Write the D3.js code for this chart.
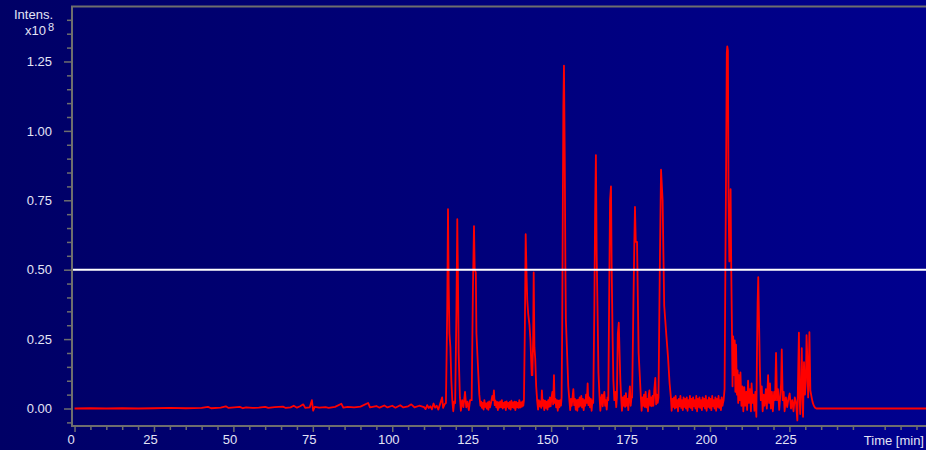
<!DOCTYPE html>
<html>
<head>
<meta charset="utf-8">
<script src="https://cdn.jsdelivr.net/npm/d3@7"></script>
<style>
  html, body { margin: 0; padding: 0; background: #00006c; }
  svg { display: block; }
</style>
</head>
<body>
<svg id="chart" width="926" height="450"></svg>
<script>
// ---- axis ticks ----
const xTickValues = [0, 25, 50, 75, 100, 125, 150, 175, 200, 225];
const xTickLabels = ["0", "25", "50", "75", "100", "125", "150", "175", "200", "225"];
const yTickValues = [0, 0.25, 0.5, 0.75, 1.0, 1.25];
const yTickLabels = ["0.00", "0.25", "0.50", "0.75", "1.00", "1.25"];

// intensity threshold line (x10^8)
const thresholdLevel = 0.5;

// ---- chromatogram trace: [time in min, intensity x10^8] ----
// quiet baseline before elution
const traceBaseline = [
  [0, 0], [5, 0.001], [10, 0], [15, 0.001], [20, 0], [25, 0.001], [30, 0.002], [35, 0.001],
  [40, 0.002], [42, 0.006], [43, 0.001], [46, 0.003], [47.6, 0.008], [48.5, 0.002], [52, 0.006],
  [53, 0.001], [54, 0.004], [56, 0.002], [58, 0.003], [60, 0.006], [61, 0.002], [63, 0.005],
  [65.6, 0.007], [66.5, 0.002], [68, 0.004], [69, 0.01], [70, 0.003], [71, 0.008], [72, 0.015],
  [72.6, 0.002], [74, 0.004], [74.7, 0.03], [75.1, -0.008], [75.6, 0.006], [77, 0.003],
  [79, 0.005], [80, 0.002], [82, 0.006], [84, 0.017], [84.6, 0.003], [86, 0.006], [88, 0.004],
  [90, 0.007], [92.4, 0.02], [93, 0.004], [95, 0.009], [96, 0.003], [97.5, 0.011], [98.5, 0.004],
  [100, 0.01], [101, 0.003], [102.5, 0.012], [103.5, 0.004], [105, 0.008], [106, 0.015],
  [107, 0.004], [108.5, 0.01], [110, 0.005]
];

// main elution window
const traceElution = [
  [110.5, -0.002], [111, 0.012], [111.5, 0.002], [112, 0.008], [112.5, -0.003], [113, 0.018],
  [113.5, 0.003], [114, 0.01], [114.5, -0.004], [115, 0.014], [115.7, 0.04], [116, 0.002],
  [116.5, 0.016], [116.9, 0.02],
  [117.3, 0.35], [117.55, 0.718], [117.75, 0.45], [118, 0.27], [118.3, 0.22], [118.6, 0.1], [118.9, 0.03],
  [119.2, -0.01], [119.5, 0.025], [119.8, 0.02],
  [120.2, 0.35], [120.47, 0.682], [120.7, 0.45], [120.9, 0.2], [121.1, 0.12], [121.3, 0.04],
  [121.6, -0.008], [122, 0.03], [122.4, 0.005], [122.9, 0.06], [123.3, 0.004], [123.7, 0.025],
  [124.1, -0.006], [124.5, 0.03], [125, 0.03],
  [125.4, 0.44], [125.73, 0.657], [125.95, 0.5], [126.3, 0.49], [126.5, 0.27], [126.9, 0.17], [127.4, 0.05],
  [127.75, 0.01], [128, 0.025], [128.25, 0.002], [128.5, 0.02], [128.75, -0.004], [129, 0.03],
  [129.25, 0.006], [129.5, 0.018], [129.75, 0], [130, 0.022], [130.25, -0.005], [130.5, 0.026],
  [130.75, 0.004], [131, 0.015], [131.25, 0.03], [131.5, 0.045], [131.75, 0.03], [132, 0.065],
  [132.25, 0.012], [132.5, 0.028], [132.75, 0.004], [133, 0.024], [133.25, -0.006], [133.5, 0.022],
  [133.75, 0.003], [134, 0.026], [134.25, 0.005], [134.5, 0.03], [134.75, 0], [135, 0.02],
  [135.25, 0.004], [135.5, 0.024], [135.75, -0.006], [136, 0.026], [136.25, 0.006], [136.5, 0.02],
  [136.75, 0], [137, 0.024], [137.25, -0.004], [137.5, 0.028], [137.75, 0.004], [138, 0.022],
  [138.25, 0.002], [138.5, 0.025], [138.75, -0.006], [139, 0.024], [139.25, 0.004], [139.5, 0.02],
  [139.75, 0.002], [140, 0.03], [140.25, 0.003], [140.5, 0.022], [140.75, 0.006], [141, 0.026],
  [141.25, 0.01], [141.45, 0.03],
  [141.75, 0.3], [142, 0.628], [142.3, 0.47], [142.5, 0.39], [142.8, 0.34], [143.2, 0.3], [143.5, 0.245], [143.9, 0.12],
  [144.1, 0.12], [144.35, 0.25], [144.52, 0.49], [144.75, 0.22], [145, 0.18], [145.3, 0.08], [145.6, 0.03],
  [145.9, -0.004], [146.15, 0.03], [146.4, 0.008], [146.65, 0.026], [146.9, 0.002], [147.1, 0.065],
  [147.35, 0.01], [147.6, 0.03], [147.85, -0.006], [148.1, 0.028], [148.35, 0.002], [148.6, 0.025],
  [148.85, -0.004], [149.1, 0.03], [149.35, 0.006], [149.6, 0.04], [149.85, 0.008], [150.1, 0.035],
  [150.4, 0.06], [150.65, 0.015], [150.9, 0.12], [151.1, 0.02], [151.35, 0.035], [151.6, 0.004],
  [151.85, 0.03], [152.1, -0.008], [152.35, 0.028], [152.6, 0.004], [152.85, 0.03], [153.1, 0.01], [153.3, 0.04],
  [153.5, 0.3], [153.7, 0.75], [153.85, 1.087], [154.05, 1.235], [154.3, 0.9], [154.5, 0.5],
  [154.65, 0.32], [155, 0.21], [155.4, 0.08], [155.75, 0.03],
  [156, -0.006], [156.25, 0.035], [156.5, 0.01], [156.75, 0.04], [157, 0.07], [157.25, 0.012],
  [157.5, 0.035], [157.75, -0.004], [158, 0.03], [158.25, -0.008], [158.5, 0.032], [158.75, 0.006],
  [159, 0.04], [159.25, 0.01], [159.5, 0.045], [159.75, 0.004], [160, 0.035], [160.25, -0.006],
  [160.5, 0.03], [160.75, 0.01], [161, 0.05], [161.25, 0.02], [161.5, 0.09], [161.75, 0.012],
  [162, 0.04], [162.25, 0.004], [162.5, 0.035], [162.75, -0.008], [163, 0.03], [163.25, 0.02],
  [163.6, 0.35], [163.85, 0.7], [164.1, 0.913], [164.35, 0.55], [164.6, 0.37], [164.9, 0.13], [165.25, 0.04],
  [165.5, -0.008], [165.75, 0.035], [166, 0.05], [166.25, 0.008], [166.5, 0.04], [166.75, 0.06],
  [167, 0.01], [167.25, 0.03], [167.5, -0.004], [167.75, 0.04], [168, 0.03],
  [168.25, 0.36], [168.55, 0.75], [168.85, 0.8], [169.05, 0.52], [169.35, 0.26], [169.6, 0.1], [169.9, 0.03],
  [170.2, 0.06], [170.5, 0.005], [170.7, 0.04],
  [171, 0.27], [171.3, 0.309], [171.55, 0.2], [171.8, 0.1], [172.05, 0.04],
  [172.3, -0.008], [172.55, 0.04], [172.8, 0.01], [173.05, 0.045], [173.3, 0.006], [173.55, 0.055],
  [173.8, 0.01], [174.05, 0.035], [174.3, -0.006], [174.55, 0.045], [174.8, 0.08], [175.05, 0.01],
  [175.3, 0.04], [175.5, 0.04],
  [175.9, 0.37], [176.2, 0.6], [176.4, 0.726], [176.65, 0.6], [177.05, 0.6], [177.3, 0.4],
  [177.55, 0.2], [177.95, 0.11], [178.25, 0.04],
  [178.5, -0.008], [178.75, 0.04], [179, 0.01], [179.25, 0.05], [179.5, 0.006], [179.75, 0.06],
  [180, 0.004], [180.25, 0.035], [180.5, -0.01], [180.75, 0.05], [180.95, 0.065], [181.2, 0.01],
  [181.45, 0.04], [181.7, 0.008], [181.95, 0.045], [182.2, 0.01], [182.5, 0.07], [182.8, 0.11],
  [183.05, 0.015], [183.3, 0.05], [183.55, 0.02], [183.8, 0.04],
  [184.2, 0.49], [184.6, 0.86], [185.1, 0.75], [185.6, 0.37], [186.3, 0.26], [186.8, 0.185], [187.3, 0.09], [187.7, 0.04],
  [187.95, -0.008], [188.2, 0.035], [188.45, 0.006], [188.7, 0.04], [188.95, 0], [189.2, 0.045],
  [189.45, 0.004], [189.7, 0.03], [189.95, -0.01], [190.2, 0.035], [190.45, 0.008], [190.7, 0.045],
  [190.95, 0.002], [191.2, 0.03], [191.45, -0.006], [191.7, 0.04], [191.95, 0.006], [192.2, 0.035],
  [192.45, 0], [192.7, 0.04], [192.95, -0.008], [193.2, 0.03], [193.45, 0.006], [193.7, 0.045],
  [193.95, 0.002], [194.2, 0.035], [194.45, -0.006], [194.7, 0.04], [194.95, 0.008], [195.2, 0.03],
  [195.45, 0], [195.7, 0.045], [195.95, -0.01], [196.2, 0.035], [196.45, 0.006], [196.7, 0.04],
  [196.95, 0.002], [197.2, 0.03], [197.45, -0.006], [197.7, 0.04], [197.95, 0.008], [198.2, 0.035],
  [198.45, 0], [198.7, 0.045], [198.95, -0.008], [199.2, 0.03], [199.45, 0.006], [199.7, 0.04],
  [199.95, 0.002], [200.2, 0.035], [200.45, -0.006], [200.7, 0.045], [200.95, 0.008], [201.2, 0.03],
  [201.45, 0], [201.7, 0.04], [201.95, -0.008], [202.2, 0.035], [202.45, 0.006], [202.7, 0.045],
  [202.95, 0.002], [203.2, 0.03], [203.45, -0.006], [203.7, 0.04], [203.95, 0.01], [204.1, 0.02]
];

// late eluting peaks and column wash
const traceLate = [
  [204.3, 0.03], [204.6, 0.07], [204.85, 0.5], [205.1, 0.9], [205.3, 1.28], [205.45, 1.304],
  [205.65, 1.29], [205.85, 0.75], [206.1, 0.53], [206.3, 0.62], [206.5, 0.79], [206.7, 0.5],
  [206.9, 0.31], [207.1, 0.08], [207.3, 0.26], [207.6, 0.12], [207.8, 0.245], [208, 0.06],
  [208.2, 0.23], [208.5, 0.05], [208.7, 0.137], [208.9, 0.02], [209.1, 0.12], [209.4, 0.03],
  [209.6, 0.13], [209.9, 0.01], [210.2, 0.08], [210.5, -0.01], [210.8, 0.077], [211.1, 0.01],
  [211.4, 0.06], [211.7, -0.005], [212, 0.1], [212.3, 0.02], [212.6, 0.07], [212.9, -0.01],
  [213.1, 0.09], [213.4, 0.02], [213.7, 0.05], [214, -0.008], [214.3, 0.06], [214.6, -0.03],
  [214.8, 0.2], [215, 0.38], [215.2, 0.473], [215.45, 0.31], [215.7, 0.15], [216, 0.03],
  [216.3, 0.08], [216.6, -0.01], [216.9, 0.05], [217.2, 0.01], [217.6, 0.07], [217.9, 0],
  [218.3, 0.12], [218.6, 0.02], [218.9, 0.09], [219.2, 0], [219.5, 0.06], [219.8, -0.01],
  [220.2, 0.06], [220.5, 0.03], [220.8, 0.2], [221.1, 0.03], [221.4, 0.07], [221.8, -0.005],
  [222.1, 0.04], [222.4, 0.09], [222.6, 0.213], [222.9, 0.03], [223.2, 0.06], [223.5, -0.01],
  [223.9, 0.04], [224.3, 0.005], [224.7, 0.035], [225.1, 0.054], [225.5, 0], [225.9, 0.03],
  [226.3, -0.01], [226.7, 0.04], [227.1, 0.02], [227.5, -0.043], [227.8, 0.15], [228, 0.273],
  [228.2, 0.04], [228.4, -0.02], [228.7, 0.1], [228.9, 0.217], [229.1, 0.05], [229.3, -0.03],
  [229.6, 0.167], [229.9, 0.05], [230.2, 0.1], [230.4, 0.264], [230.7, 0.16], [230.9, 0.04],
  [231.1, 0.12], [231.3, 0.275], [231.6, 0.065], [232, 0.04], [232.3, 0.023], [232.7, 0.01],
  [233.1, 0.003], [233.5, 0], [240, 0], [250, 0], [268, 0]
];

const trace = traceBaseline.concat(traceElution, traceLate);

// ---- layout ----
const W = 926, H = 450;
const plot = { left: 72, right: 926, top: 6.5, bottom: 426 };
const axisColor = "#6e6e6e";
const textColor = "#e4e4f6";
const fontFamily = "'Liberation Sans', Arial, Helvetica, sans-serif";

const svg = d3.select("#chart");

// background gradient
const defs = svg.append("defs");
const grad = defs.append("linearGradient").attr("id", "bg")
  .attr("x1", "0%").attr("y1", "0%").attr("x2", "100%").attr("y2", "0%");
grad.append("stop").attr("offset", "0%").attr("stop-color", "#000066");
grad.append("stop").attr("offset", "100%").attr("stop-color", "#00008e");
svg.append("rect").attr("width", W).attr("height", H).attr("fill", "url(#bg)");

defs.append("clipPath").attr("id", "plotClip")
  .append("rect")
  .attr("x", plot.left + 1).attr("y", plot.top + 1)
  .attr("width", plot.right - plot.left - 1).attr("height", plot.bottom - plot.top - 2);

const x = d3.scaleLinear().domain([-0.8, 268]).range([plot.left, plot.right]);
const y = d3.scaleLinear().domain([-0.063, 1.448]).range([plot.bottom, plot.top]);

// chromatogram trace
const line = d3.line().x(d => x(d[0])).y(d => y(d[1]));
svg.append("path")
  .datum(trace)
  .attr("clip-path", "url(#plotClip)")
  .attr("d", line)
  .attr("fill", "none")
  .attr("stroke", "#ff0000")
  .attr("stroke-width", 1.8)
  .attr("stroke-linejoin", "round");

// threshold line
svg.append("line")
  .attr("x1", plot.left + 1).attr("x2", plot.right)
  .attr("y1", y(thresholdLevel)).attr("y2", y(thresholdLevel))
  .attr("stroke", "#ffffff").attr("stroke-width", 2);

// ---- x axis ----
const xMinor = d3.range(0, 266, 5).filter(v => v % 25 !== 0);
svg.append("g")
  .attr("transform", `translate(0,${plot.bottom})`)
  .call(d3.axisBottom(x).tickValues(xMinor).tickSize(4).tickFormat(""))
  .call(g => g.select(".domain").remove())
  .call(g => g.selectAll("line").attr("stroke", axisColor).attr("stroke-width", 1.5));

const xAxisG = svg.append("g")
  .attr("transform", `translate(0,${plot.bottom})`)
  .call(d3.axisBottom(x).tickValues(xTickValues).tickSize(6)
    .tickFormat((d, i) => xTickLabels[i]));
xAxisG.select(".domain").remove();
xAxisG.selectAll("line").attr("stroke", axisColor).attr("stroke-width", 1.5);
xAxisG.selectAll("text")
  .attr("fill", textColor).attr("dx", -4)
  .style("font-family", fontFamily).style("font-size", "13px");

// ---- y axis ----
const yMinor = d3.range(-1, 29).map(k => +(k * 0.05).toFixed(2)).filter(v => Math.round(v * 100) % 25 !== 0);
svg.append("g")
  .attr("transform", `translate(${plot.left},0)`)
  .call(d3.axisLeft(y).tickValues(yMinor).tickSize(5).tickFormat(""))
  .call(g => g.select(".domain").remove())
  .call(g => g.selectAll("line").attr("stroke", axisColor).attr("stroke-width", 1.5));

const yAxisG = svg.append("g")
  .attr("transform", `translate(${plot.left},0)`)
  .call(d3.axisLeft(y).tickValues(yTickValues).tickSize(8).tickPadding(12)
    .tickFormat((d, i) => yTickLabels[i]));
yAxisG.select(".domain").remove();
yAxisG.selectAll("line").attr("stroke", axisColor).attr("stroke-width", 1.5);
yAxisG.selectAll("text")
  .attr("fill", textColor)
  .style("font-family", fontFamily).style("font-size", "13px");

// ---- frame ----
const frame = svg.append("g").attr("stroke", axisColor).attr("stroke-width", 2);
frame.append("line").attr("x1", plot.left).attr("x2", plot.left).attr("y1", plot.top - 0.5).attr("y2", plot.bottom + 1);
frame.append("line").attr("x1", plot.left - 1).attr("x2", plot.right).attr("y1", plot.bottom).attr("y2", plot.bottom);
frame.append("line").attr("x1", plot.left - 1).attr("x2", plot.right).attr("y1", plot.top).attr("y2", plot.top);

// ---- axis titles ----
const titles = svg.append("g").attr("fill", textColor).style("font-family", fontFamily);
titles.append("text").attr("x", 53).attr("y", 18.5).attr("text-anchor", "end")
  .style("font-size", "13px").text("Intens.");
titles.append("text").attr("x", 46).attr("y", 34.5).attr("text-anchor", "end")
  .style("font-size", "13px").text("x10");
titles.append("text").attr("x", 48).attr("y", 30.5).attr("text-anchor", "start")
  .style("font-size", "11px").text("8");
titles.append("text").attr("x", 924).attr("y", 444.5).attr("text-anchor", "end")
  .style("font-size", "13px").text("Time [min]");
</script>
</body>
</html>
